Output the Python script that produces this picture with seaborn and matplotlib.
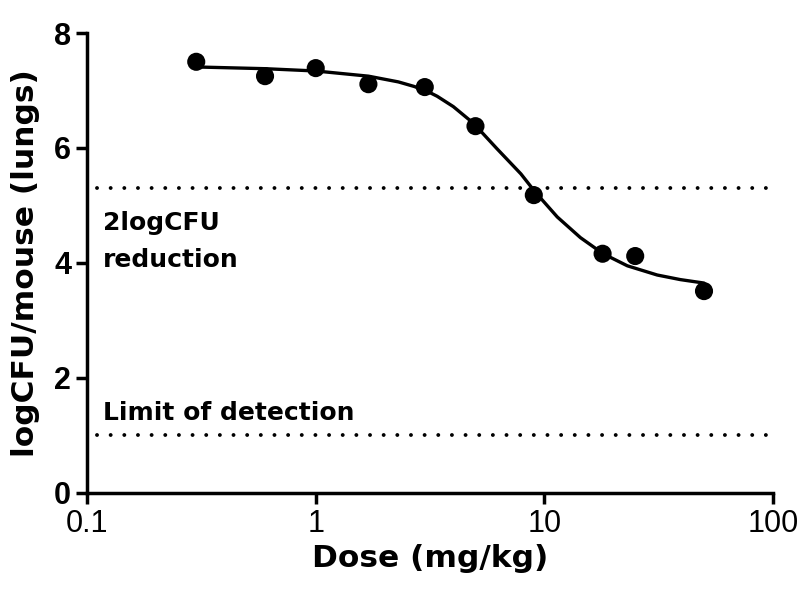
import numpy as np
import pandas as pd
import matplotlib
matplotlib.use("Agg")
import matplotlib.pyplot as plt
import seaborn as sns

# measured points
dose = [0.3, 0.6, 1.0, 1.7, 3.0, 5.0, 9.0, 18.0, 25.0, 50.0]
log_cfu = [7.50, 7.25, 7.39, 7.11, 7.06, 6.38, 5.18, 4.16, 4.12, 3.51]

# fitted curve
curve_dose = [0.3, 0.6, 1.0, 1.7, 2.3, 2.7, 3.1, 3.4, 4.0, 4.9, 6.2, 7.9, 9.1,
              11.4, 14.4, 18.1, 23.1, 31.2, 39.4, 50.0]
curve_y = [7.41, 7.38, 7.34, 7.25, 7.15, 7.07, 6.98, 6.90, 6.72, 6.43, 5.99, 5.55,
           5.24, 4.80, 4.44, 4.16, 3.95, 3.79, 3.71, 3.65]

reduction_level = 5.3
detection_limit = 1.0

df = pd.DataFrame({"Dose": dose, "logCFU": log_cfu})
fit = pd.DataFrame({"Dose": curve_dose, "logCFU": curve_y})

sns.set_style("ticks")
plt.rcParams["font.family"] = ["Liberation Sans", "DejaVu Sans"]
plt.rcParams["text.color"] = "black"
plt.rcParams["axes.labelcolor"] = "black"

fig = plt.figure(figsize=(8, 6.01), dpi=100)
ax = fig.add_axes([0.109, 0.18, 0.857, 0.765])

sns.lineplot(data=fit, x="Dose", y="logCFU", color="black", linewidth=2.4, ax=ax)
sns.scatterplot(data=df, x="Dose", y="logCFU", color="black", s=170,
                edgecolor="none", zorder=3, ax=ax)

dots = (0, (0.01, 3.5))
for level in [reduction_level, detection_limit]:
    ax.hlines(level, 0.11, 100, colors="black", linewidth=2.8,
              linestyles=dots)
for coll in ax.collections[-2:]:
    coll.set_capstyle("round")

label_font = {"family": "DejaVu Sans", "weight": "bold"}
ax.text(0.1175, 4.57, "2logCFU", fontsize=18, va="baseline", ha="left",
        fontdict=label_font)
ax.text(0.1175, 3.93, "reduction", fontsize=18, va="baseline", ha="left",
        fontdict=label_font)
ax.text(0.1175, 1.27, "Limit of detection", fontsize=18, va="baseline",
        ha="left", fontdict=label_font)

ax.set_xscale("log")
ax.set_xlim(0.1, 100)
ax.set_ylim(0, 8)
ax.set_xticks([0.1, 1, 10, 100])
ax.set_xticklabels(["0.1", "1", "10", "100"])
ax.set_yticks([0, 2, 4, 6, 8])
ax.minorticks_off()

ax.set_xlabel("Dose (mg/kg)", fontsize=22.5, fontdict=label_font, labelpad=4)
ax.set_ylabel("logCFU/mouse (lungs)", fontsize=22.5, fontdict=label_font,
              labelpad=10)
ax.tick_params(axis="both", width=2.5, length=8, colors="black", labelsize=22)
for lab in ax.get_yticklabels():
    lab.set_fontweight("bold")

sns.despine(ax=ax)
for side in ["left", "bottom"]:
    ax.spines[side].set_linewidth(2.5)
    ax.spines[side].set_color("black")

fig.savefig("out.png", dpi=100)
